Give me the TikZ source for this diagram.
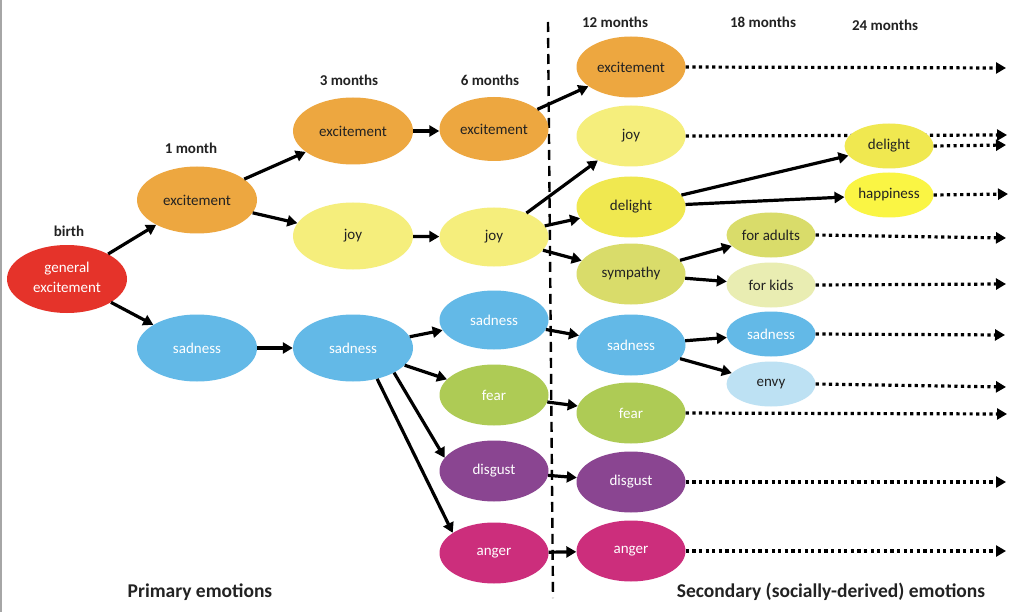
\documentclass[tikz,border=0pt]{standalone}
\usepackage{fontspec}
\setmainfont{Carlito}
\usetikzlibrary{shapes.geometric,arrows.meta,backgrounds}
\definecolor{cred}{HTML}{E5332A}
\definecolor{corange}{HTML}{EDA740}
\definecolor{cjoy}{HTML}{F5EE7C}
\definecolor{cdelight}{HTML}{F0E850}
\definecolor{csym}{HTML}{D9DC6A}
\definecolor{ckids}{HTML}{E9EDB2}
\definecolor{chappy}{HTML}{FAF544}
\definecolor{cblue}{HTML}{63B9E7}
\definecolor{cenvy}{HTML}{BDE1F3}
\definecolor{cgreen}{HTML}{AECB55}
\definecolor{cpurple}{HTML}{8A4591}
\definecolor{cmagenta}{HTML}{CC2E7C}
\definecolor{cdark}{HTML}{222222}
\begin{document}
\begin{tikzpicture}[x=1pt,y=-1pt,
  emo/.style={ellipse, inner sep=0pt, font=\fontsize{15}{18.5}\selectfont, align=center},
  big/.style={emo, minimum width=120pt, minimum height=67pt},
  mid/.style={emo, minimum width=109pt, minimum height=61pt},
  sml/.style={emo, minimum width=89pt, minimum height=45pt},
  dk/.style={text=cdark},
  wt/.style={text=white},
  lbl/.style={font=\fontsize{15}{18}\selectfont\bfseries, text=cdark},
  ttl/.style={font=\fontsize{19.5}{22}\selectfont\bfseries, text=cdark},
  arr/.style={line width=3.2pt, -{Triangle[length=10pt,width=11pt]}},
  dotarr/.style={line width=3.2pt, dash pattern=on 3.2pt off 3.4pt, -{Triangle[length=10pt,width=11pt]}},
  divider/.style={line width=2.4pt, dash pattern=on 10pt off 6pt}
]
\useasboundingbox (0,0) rectangle (1024,612);
\begin{scope}[on background layer]
  \fill[white] (0,0) rectangle (1024,612);
  \draw[gray!70, line width=1.5pt] (0.75,0) -- (0.75,612);
\end{scope}

% column labels
\node[lbl] (Lbirth) at (69,231) {birth};
\node[lbl] (L1) at (191,148) {1 month};
\node[lbl] (L3) at (349,80) {3 months};
\node[lbl] (L6) at (490,80) {6 months};
\node[lbl] (L12) at (615,22) {12 months};
\node[lbl] (L18) at (763,22) {18 months};
\node[lbl] (L24) at (885,25) {24 months};
\node[ttl] (Tprim) at (200,592) {Primary emotions};
\node[ttl] (Tsec) at (831,592) {Secondary (socially-derived) emotions};

% divider
\coordinate (dtop) at (548,22);
\coordinate (dbot) at (553,598);
\draw[divider] (dtop) -- (dbot);

% birth / 1 month
\node[big, fill=cred, wt, minimum height=68pt] (gen) at (67,279) {\raisebox{3pt}{\shortstack{general\\[4.5pt]excitement}}};
\node[big, fill=corange, dk] (exc1) at (197,200) {excitement};
\node[big, fill=cblue, wt] (sad1) at (197,348) {sadness};

% 3 months
\node[big, fill=corange, dk] (exc3) at (353,131) {excitement};
\node[big, fill=cjoy, dk] (joy3) at (353,236) {joy};
\node[big, fill=cblue, wt] (sad3) at (353,348) {sadness};

% 6 months
\node[mid, minimum height=64pt, fill=corange, dk] (exc6) at (494,129) {excitement};
\node[mid, minimum height=59pt, fill=cjoy, dk] (joy6) at (494,237) {joy};
\node[mid, minimum height=59pt, fill=cblue, wt] (sad6) at (494,320) {sadness};
\node[mid, fill=cgreen, wt] (fear6) at (494,395) {fear};
\node[mid, fill=cpurple, wt] (dis6) at (494,471) {disgust};
\node[mid, fill=cmagenta, wt] (ang6) at (494,553) {anger};

% 12 months
\node[mid, fill=corange, dk] (exc12) at (631,67) {excitement};
\node[mid, fill=cjoy, dk] (joy12) at (631,136) {joy};
\node[mid, fill=cdelight, dk] (del12) at (631,207) {delight};
\node[mid, fill=csym, dk] (sym12) at (631,274) {sympathy};
\node[mid, fill=cblue, wt] (sad12) at (631,345) {sadness};
\node[mid, fill=cgreen, wt] (fear12) at (631,413) {fear};
\node[mid, fill=cpurple, wt] (dis12) at (631,482) {disgust};
\node[mid, fill=cmagenta, wt] (ang12) at (631,551) {anger};

% 18 months
\node[sml, fill=csym, dk] (adult18) at (771,235) {for adults};
\node[sml, fill=ckids, dk] (kids18) at (771,285) {for kids};
\node[sml, fill=cblue, wt] (sad18) at (771,334) {sadness};
\node[sml, fill=cenvy, dk] (envy18) at (771,384) {envy};

% 24 months
\node[sml, fill=cdelight, dk] (del24) at (889,146) {delight};
\node[sml, fill=chappy, dk] (hap24) at (889,195) {happiness};

% dotted end points
\coordinate (eExc) at (1006,68);
\coordinate (eJoy) at (1007,135);
\coordinate (eDel) at (1006,145);
\coordinate (eHap) at (1008,194);
\coordinate (eAdu) at (1006,238);
\coordinate (eKid) at (1006,284);
\coordinate (eSad) at (1005,335);
\coordinate (eEnv) at (1006,387);
\coordinate (eFea) at (1007,414);
\coordinate (eDis) at (1006,482);
\coordinate (eAng) at (1006,551);

% solid arrows
\draw[arr] (gen) -- (exc1);
\draw[arr] (gen) -- (sad1);
\draw[arr] (exc1) -- (exc3);
\draw[arr] (exc1) -- (joy3);
\draw[arr] (sad1) -- (sad3);
\draw[arr] (exc3.east) -- (exc6.west|-exc3.east);
\draw[arr] (joy3) -- (joy6);
\draw[arr] (sad3) -- (sad6);
\draw[arr] (sad3) -- (fear6);
\draw[arr] (sad3.-31) -- (dis6.165);
\draw[arr] (sad3.-52) -- (ang6.154);
\draw[arr] (exc6) -- (exc12);
\draw[arr] (joy6) -- (joy12);
\draw[arr] (joy6) -- (del12);
\draw[arr] (joy6) -- (sym12);
\draw[arr] (sad6) -- (sad12);
\draw[arr] (fear6) -- (fear12);
\draw[arr] (dis6) -- (dis12);
\draw[arr] (ang6) -- (ang12);
\draw[arr] (del12) -- (del24);
\draw[arr] (del12) -- (hap24);
\draw[arr] (sym12) -- (adult18);
\draw[arr] (sym12) -- (kids18);
\draw[arr] (sad12) -- (sad18);
\draw[arr] (sad12) -- (envy18);

% dotted arrows
\draw[dotarr] (exc12.east) -- (eExc);
\begin{scope}[on background layer]
\draw[dotarr] (joy12.east) -- (eJoy);
\end{scope}
\draw[dotarr] (del24.east) -- (eDel);
\draw[dotarr] (hap24.east) -- (eHap);
\draw[dotarr] (adult18.east) -- (eAdu);
\draw[dotarr] (kids18.east) -- (eKid);
\draw[dotarr] (sad18.east) -- (eSad);
\draw[dotarr] (envy18.east) -- (eEnv);
\draw[dotarr] (fear12.east) -- (eFea);
\draw[dotarr] (dis12.east) -- (eDis);
\draw[dotarr] (ang12.east) -- (eAng);
\end{tikzpicture}
\end{document}
